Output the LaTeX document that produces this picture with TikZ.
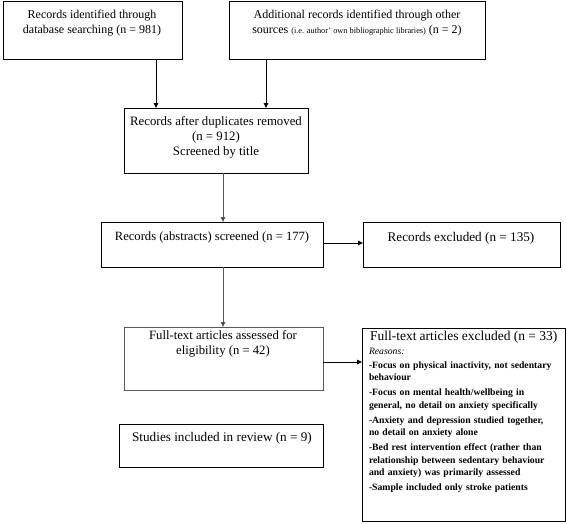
\documentclass[tikz,border=0pt]{standalone}
\usepackage{fontspec}
\setmainfont{Liberation Serif}
\usetikzlibrary{arrows.meta}
\definecolor{lgray}{gray}{0.35}
\begin{document}
\begin{tikzpicture}[x=1pt,y=-1pt,
  box/.style={draw=black,line width=1pt,inner sep=0pt,outer sep=0pt},
  graybox/.style={box,draw=lgray},
  txt/.style={inner sep=0pt,outer sep=0pt,anchor=north,align=center,font=\fontsize{12}{15}\selectfont},
  conn/.style={line width=1pt,-{Triangle[length=5pt,width=4.5pt]}},
  gconn/.style={conn,draw=lgray,-{Triangle[length=5pt,width=4.5pt,fill=black]}}]
\useasboundingbox (0,0) rectangle (567,523);
% boxes
\node[box,minimum width=179pt,minimum height=58pt] (b1) at (92.5,30) {};
\node[box,minimum width=256pt,minimum height=58pt] (b2) at (357,30) {};
\node[box,minimum width=184pt,minimum height=65pt] (b3) at (216,140.5) {};
\node[box,minimum width=222pt,minimum height=45pt] (b4) at (212,244.5) {};
\node[box,minimum width=197pt,minimum height=45pt] (b4r) at (461.5,244.5) {};
\node[graybox,minimum width=199pt,minimum height=63pt] (b5) at (223.5,358.5) {};
\node[box,minimum width=204pt,minimum height=43pt] (b6) at (221,445.5) {};
\node[box,minimum width=203pt,minimum height=193pt] (b7) at (463.5,424.5) {};
% texts
\node[txt] (t1) at (92,10) {Records identified through\\database searching (n = 981)};
\node[txt] (t2) at (357,10) {Additional records identified through other\\sources {\fontsize{8.3}{10}\selectfont(i.e. author' own bibliographic libraries)} (n = 2)};
\node[txt,font=\fontsize{12.8}{15}\selectfont] (t3) at (216,116) {Records after duplicates removed\\(n = 912)\\Screened by title};
\node[txt,font=\fontsize{12.6}{15}\selectfont] (t4) at (212,232) {Records (abstracts) screened (n = 177)};
\node[txt,font=\fontsize{13.2}{15}\selectfont] (t4r) at (461,232) {Records excluded (n = 135)};
\node[txt,font=\fontsize{12.7}{15}\selectfont] (t5) at (223,331) {Full-text articles assessed for\\eligibility (n = 42)};
\node[txt,font=\fontsize{13.2}{15}\selectfont] (t6) at (222,432) {Studies included in review (n = 9)};
\node[txt,anchor=north west,align=left,text width=197pt,font=\fontsize{9.7}{12.5}\selectfont] (t7) at (369,331)
 {{\fontsize{13.5}{12.5}\selectfont\hspace*{1pt}Full-text articles excluded (n = 33)}\\[1.5pt]
  \textit{Reasons:}\\[1.5pt]
  \textbf{-Focus on physical inactivity, not sedentary}\\
  \textbf{behaviour}\\[2.5pt]
  \textbf{-Focus on mental health/wellbeing in}\\
  \textbf{general, no detail on anxiety specifically}\\[2.5pt]
  \textbf{-Anxiety and depression studied together,}\\
  \textbf{no detail on anxiety alone}\\[2.5pt]
  \textbf{-Bed rest intervention effect (rather than}\\
  \textbf{relationship between sedentary behaviour}\\
  \textbf{and anxiety) was primarily assessed}\\[2.5pt]
  \textbf{-Sample included only stroke patients}};
% connectors
\draw[conn] (b1.south -| 156,0) -- (b3.north -| 156,0);
\draw[conn] (b2.south -| 266,0) -- (b3.north -| 266,0);
\draw[gconn] (b3.south -| 223,0) -- (b4.north -| 223,0);
\draw[conn] (b4.east |- 0,243) -- (b4r.west |- 0,243);
\draw[gconn] (b4.south -| 223,0) -- (b5.north -| 223,0);
\draw[conn] (b5.east |- 0,362) -- (b7.west |- 0,362);
\end{tikzpicture}
\end{document}
